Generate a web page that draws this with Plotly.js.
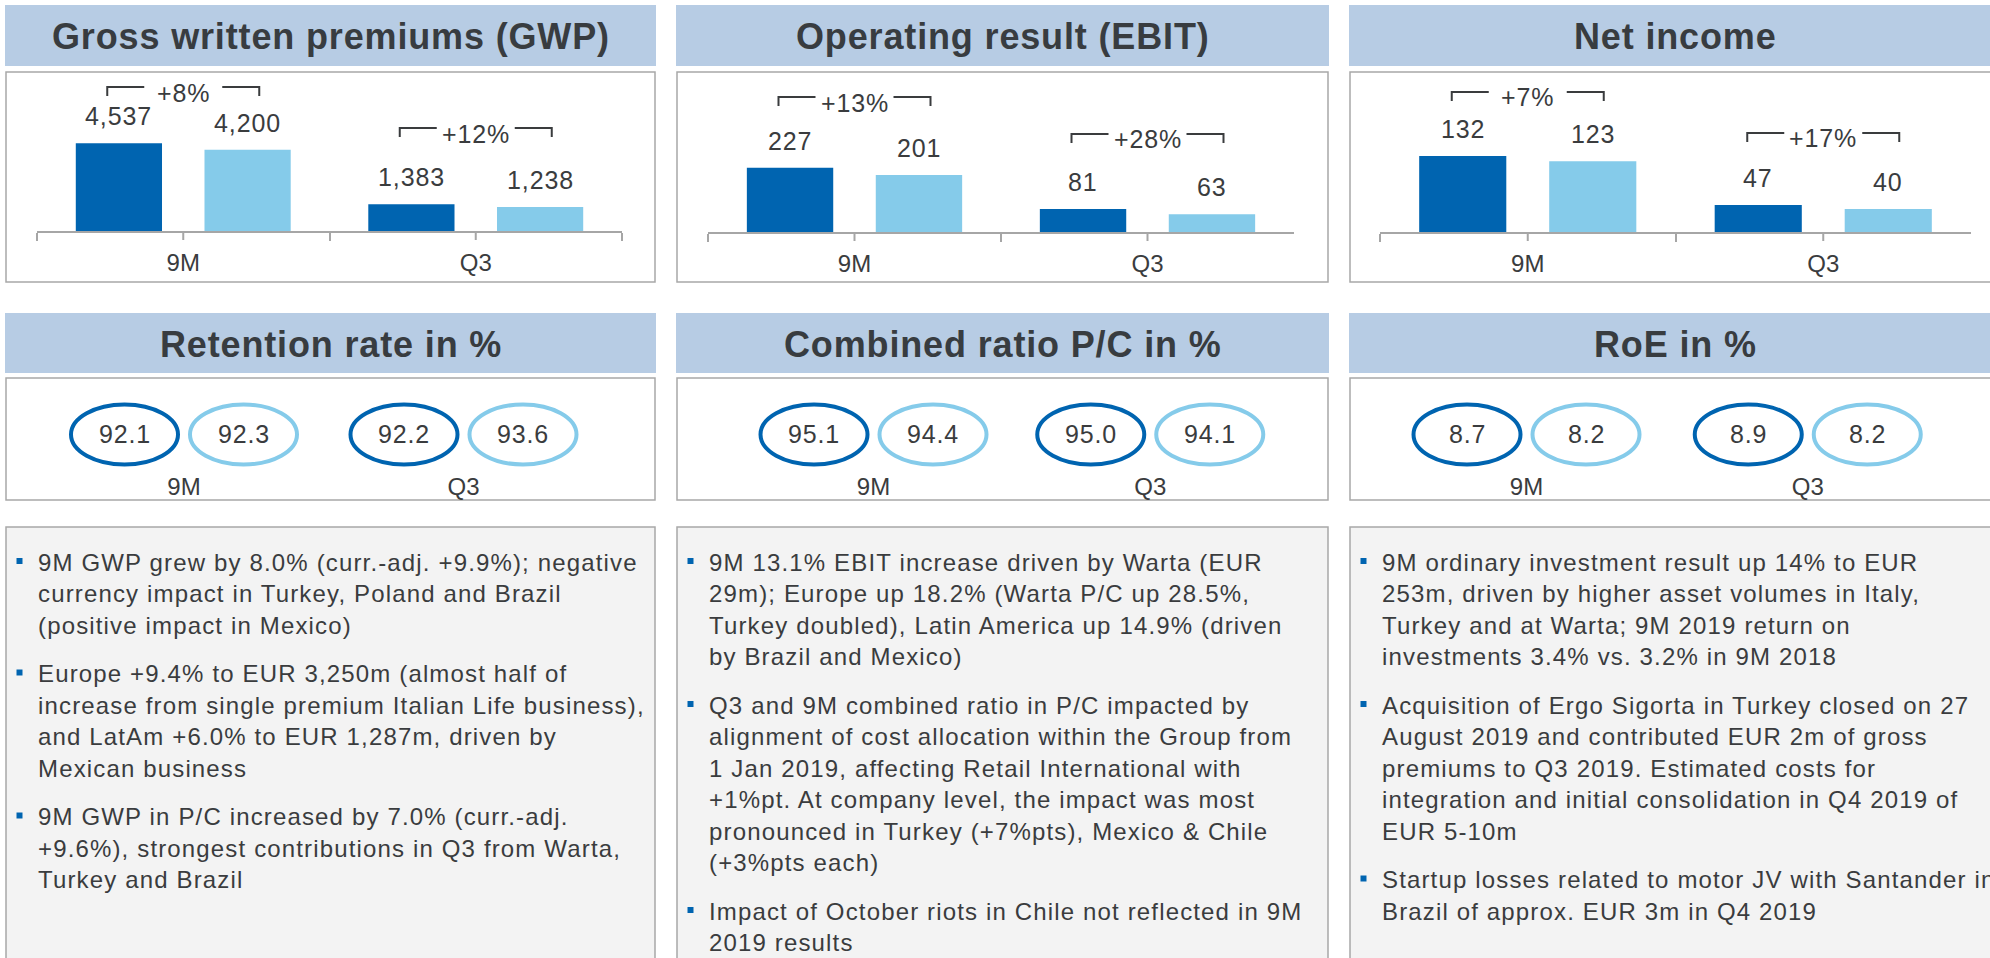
<!DOCTYPE html>
<html><head><meta charset="utf-8">
<script src="https://cdn.plot.ly/plotly-3.0.1.min.js"></script>
<style>html,body{margin:0;padding:0;background:#fff;overflow:hidden}#chart{width:1990px;height:958px}</style>
</head><body><div id="chart"></div>
<script>
// ---------------- data ----------------
const categories = ['9M', 'Q3'];
const gwp2019 = [4537, 1383];
const gwp2018 = [4200, 1238];
const gwpGrowth = ['+8%', '+12%'];
const ebit2019 = [227, 81];
const ebit2018 = [201, 63];
const ebitGrowth = ['+13%', '+28%'];
const netIncome2019 = [132, 47];
const netIncome2018 = [123, 40];
const netIncomeGrowth = ['+7%', '+17%'];
const retention2019 = [92.1, 92.2];
const retention2018 = [92.3, 93.6];
const combinedRatio2019 = [95.1, 95.0];
const combinedRatio2018 = [94.4, 94.1];
const roe2019 = [8.7, 8.9];
const roe2018 = [8.2, 8.2];
const panelTitles = ['Gross written premiums (GWP)', 'Operating result (EBIT)', 'Net income',
  'Retention rate in %', 'Combined ratio P/C in %', 'RoE in %'];
const bulletsGWP = [
  ['9M GWP grew by 8.0% (curr.-adj. +9.9%); negative', 'currency impact in Turkey, Poland and Brazil', '(positive impact in Mexico)'],
  ['Europe +9.4% to EUR 3,250m (almost half of', 'increase from single premium Italian Life business),', 'and LatAm +6.0% to EUR 1,287m, driven by', 'Mexican business'],
  ['9M GWP in P/C increased by 7.0% (curr.-adj.', '+9.6%), strongest contributions in Q3 from Warta,', 'Turkey and Brazil']
];
const bulletsEBIT = [
  ['9M 13.1% EBIT increase driven by Warta (EUR', '29m); Europe up 18.2% (Warta P/C up 28.5%,', 'Turkey doubled), Latin America up 14.9% (driven', 'by Brazil and Mexico)'],
  ['Q3 and 9M combined ratio in P/C impacted by', 'alignment of cost allocation within the Group from', '1 Jan 2019, affecting Retail International with', '+1%pt. At company level, the impact was most', 'pronounced in Turkey (+7%pts), Mexico &amp; Chile', '(+3%pts each)'],
  ['Impact of October riots in Chile not reflected in 9M', '2019 results']
];
const bulletsNet = [
  ['9M ordinary investment result up 14% to EUR', '253m, driven by higher asset volumes in Italy,', 'Turkey and at Warta; 9M 2019 return on', 'investments 3.4% vs. 3.2% in 9M 2018'],
  ['Acquisition of Ergo Sigorta in Turkey closed on 27', 'August 2019 and contributed EUR 2m of gross', 'premiums to Q3 2019. Estimated costs for', 'integration and initial consolidation in Q4 2019 of', 'EUR 5-10m'],
  ['Startup losses related to motor JV with Santander in', 'Brazil of approx. EUR 3m in Q4 2019']
];

// ---------------- geometry / style ----------------
const W = 1990, H = 958;
const X = p => p / W, Y = p => 1 - p / H;
const FONT = 'Liberation Sans, Arial, Helvetica, sans-serif';
const TXT = '#3a3c3e', TITLE = '#383c40';
const DARK = '#0064b0', LIGHT = '#85cbea', BAND = '#b7cce4', BORDER = '#a8a8a8', AXIS = '#a6a6a6';
const BARGAP = 0.12, BARGROUPGAP = 0.33;
const sp = (s, ls) => `<span style="letter-spacing:${ls}px">${s}</span>`;
const columns = [[6, 655], [677, 1328], [1350, 2001]];

const traces = [], shapes = [], annotations = [];
const layout = {
  width: W, height: H, margin: {l: 0, r: 0, t: 0, b: 0},
  paper_bgcolor: '#ffffff', plot_bgcolor: 'rgba(0,0,0,0)',
  font: {family: FONT, color: TXT, size: 24},
  showlegend: false, barmode: 'group', bargap: BARGAP, bargroupgap: BARGROUPGAP,
  shapes, annotations
};
const axName = (p, k) => k === 1 ? p + 'axis' : p + 'axis' + k;
const ref = (p, k) => k === 1 ? p : p + k;

// bands, boxes, titles
columns.forEach(([a, b], c) => {
  shapes.push({type: 'rect', xref: 'paper', yref: 'paper', x0: X(a - 1), x1: X(b + 1), y0: Y(66), y1: Y(5), fillcolor: BAND, line: {width: 0}, layer: 'below'});
  shapes.push({type: 'rect', xref: 'paper', yref: 'paper', x0: X(a), x1: X(b), y0: Y(282), y1: Y(72), fillcolor: '#ffffff', line: {color: BORDER, width: 1.5}, layer: 'below'});
  shapes.push({type: 'rect', xref: 'paper', yref: 'paper', x0: X(a - 1), x1: X(b + 1), y0: Y(373), y1: Y(313), fillcolor: BAND, line: {width: 0}, layer: 'below'});
  shapes.push({type: 'rect', xref: 'paper', yref: 'paper', x0: X(a), x1: X(b), y0: Y(500), y1: Y(378), fillcolor: '#ffffff', line: {color: BORDER, width: 1.5}, layer: 'below'});
  shapes.push({type: 'rect', xref: 'paper', yref: 'paper', x0: X(a), x1: X(b), y0: Y(980), y1: Y(527), fillcolor: '#f3f3f3', line: {color: BORDER, width: 1.5}, layer: 'below'});
  const cx = (a + b) / 2;
  annotations.push({xref: 'paper', yref: 'paper', x: X(cx), y: Y(36.5), xanchor: 'center', yanchor: 'middle', showarrow: false,
    text: sp('<b>' + panelTitles[c] + '</b>', 0.85), font: {size: 36, color: TITLE, family: FONT}});
  annotations.push({xref: 'paper', yref: 'paper', x: X(cx), y: Y(344.5), xanchor: 'center', yanchor: 'middle', showarrow: false,
    text: sp('<b>' + panelTitles[c + 3] + '</b>', 0.85), font: {size: 36, color: TITLE, family: FONT}});
});

// bar panels
const barPanels = [
  {cur: gwp2019, prev: gwp2018, growth: gwpGrowth, axis: [37, 622], axisY: 231, ymax: 8226, bracketY: [87, 128]},
  {cur: ebit2019, prev: ebit2018, growth: ebitGrowth, axis: [708, 1294], axisY: 232, ymax: 565, bracketY: [97, 134]},
  {cur: netIncome2019, prev: netIncome2018, growth: netIncomeGrowth, axis: [1380, 1971], axisY: 232, ymax: 278, bracketY: [92, 133]}
];
const off = (1 - BARGAP) / 4;
barPanels.forEach((p, idx) => {
  const k = idx + 1, xr = ref('x', k), yr = ref('y', k);
  [[p.cur, DARK], [p.prev, LIGHT]].forEach(([vals, col]) => {
    traces.push({type: 'bar', x: categories, y: vals, xaxis: xr, yaxis: yr, marker: {color: col, line: {width: 0}}, hoverinfo: 'skip', cliponaxis: false});
  });
  layout[axName('x', k)] = {domain: [X(p.axis[0]), X(p.axis[1])], anchor: yr, type: 'category', range: [-0.5, 1.5],
    showline: true, linecolor: AXIS, linewidth: 2, ticks: 'outside', tickson: 'boundaries', ticklen: 8, tickcolor: AXIS, tickwidth: 2,
    showgrid: false, zeroline: false, fixedrange: true, tickfont: {size: 24, color: TXT, family: FONT}, ticklabelstandoff: 9};
  layout[axName('y', k)] = {domain: [Y(p.axisY), Y(72)], anchor: xr, range: [0, p.ymax], visible: false, fixedrange: true};
  categories.forEach((c, i) => {
    // centre ticks between the two bars
    shapes.push({type: 'line', xref: xr, yref: 'paper', x0: i, x1: i, y0: Y(p.axisY), y1: Y(p.axisY + 9), line: {color: AXIS, width: 2}});
    [p.cur, p.prev].forEach((vals, s) => {
      annotations.push({xref: xr, yref: yr, x: i + (s === 0 ? -off : off), y: vals[i], yshift: 27, xanchor: 'center', yanchor: 'middle',
        showarrow: false, text: sp(vals[i].toLocaleString('en-US'), 0.9), font: {size: 25, color: TXT, family: FONT}});
    });
    const cx = p.axis[0] + (i + 0.5) * (p.axis[1] - p.axis[0]) / 2, by = p.bracketY[i];
    shapes.push({type: 'path', xref: 'paper', yref: 'paper', line: {color: TXT, width: 2},
      path: `M ${X(cx - 76)} ${Y(by + 9)} L ${X(cx - 76)} ${Y(by)} L ${X(cx - 39)} ${Y(by)} M ${X(cx + 39)} ${Y(by)} L ${X(cx + 76)} ${Y(by)} L ${X(cx + 76)} ${Y(by + 9)}`});
    annotations.push({xref: 'paper', yref: 'paper', x: X(cx), y: Y(by + 5.5), xanchor: 'center', yanchor: 'middle', showarrow: false,
      text: sp(p.growth[i], 0.9), font: {size: 25, color: TXT, family: FONT}});
  });
});

// ellipse panels
const ellipsePanels = [
  {cur: retention2019, prev: retention2018, centers: [184, 463.5]},
  {cur: combinedRatio2019, prev: combinedRatio2018, centers: [873.5, 1150.25]},
  {cur: roe2019, prev: roe2018, centers: [1526.5, 1807.75]}
];
const EY = 434.5, EHALF = 59.5;
ellipsePanels.forEach((p, idx) => {
  const k = idx + 4, xr = ref('x', k), yr = ref('y', k);
  const w = p.centers[1] - p.centers[0];
  traces.push({type: 'scatter', mode: 'markers', x: categories, y: [0.5, 0.5], xaxis: xr, yaxis: yr, marker: {opacity: 0}, hoverinfo: 'skip'});
  layout[axName('x', k)] = {domain: [X(p.centers[0] - w / 2), X(p.centers[1] + w / 2)], anchor: yr, type: 'category', range: [-0.5, 1.5],
    showline: false, ticks: '', showgrid: false, zeroline: false, fixedrange: true, tickfont: {size: 24, color: TXT, family: FONT}};
  layout[axName('y', k)] = {domain: [Y(470), Y(400)], anchor: xr, range: [0, 1], visible: false, fixedrange: true};
  categories.forEach((c, i) => {
    [[p.cur, DARK, -1], [p.prev, LIGHT, 1]].forEach(([vals, col, sg]) => {
      shapes.push({type: 'circle', xref: xr, xsizemode: 'pixel', xanchor: i, x0: sg * EHALF - 53.5, x1: sg * EHALF + 53.5,
        yref: 'paper', y0: Y(EY + 30), y1: Y(EY - 30), line: {color: col, width: 4}, fillcolor: 'rgba(0,0,0,0)'});
      annotations.push({xref: xr, yref: 'paper', x: i, xshift: sg * EHALF, y: Y(EY), xanchor: 'center', yanchor: 'middle', showarrow: false,
        text: sp(vals[i].toFixed(1), 0.8), font: {size: 25, color: TXT, family: FONT}});
    });
  });
});

// bullet text panels
const LINE_H = 31.5, GAP = 17;
[bulletsGWP, bulletsEBIT, bulletsNet].forEach((bullets, c) => {
  const left = columns[c][0];
  let y = 562;
  bullets.forEach(lines => {
    shapes.push({type: 'rect', xref: 'paper', yref: 'paper', x0: X(left + 10.5), x1: X(left + 16.5), y0: Y(y + 2), y1: Y(y - 4),
      fillcolor: DARK, line: {width: 0}});
    lines.forEach((ln, j) => {
      annotations.push({xref: 'paper', yref: 'paper', x: X(left + 30), y: Y(y + j * LINE_H), xanchor: 'left', yanchor: 'middle',
        showarrow: false, align: 'left', text: sp(ln, 1.15), font: {size: 24, color: TXT, family: FONT}});
    });
    y += lines.length * LINE_H + GAP;
  });
});

Plotly.newPlot('chart', traces, layout, {staticPlot: true, displayModeBar: false});
</script>
</body></html>
